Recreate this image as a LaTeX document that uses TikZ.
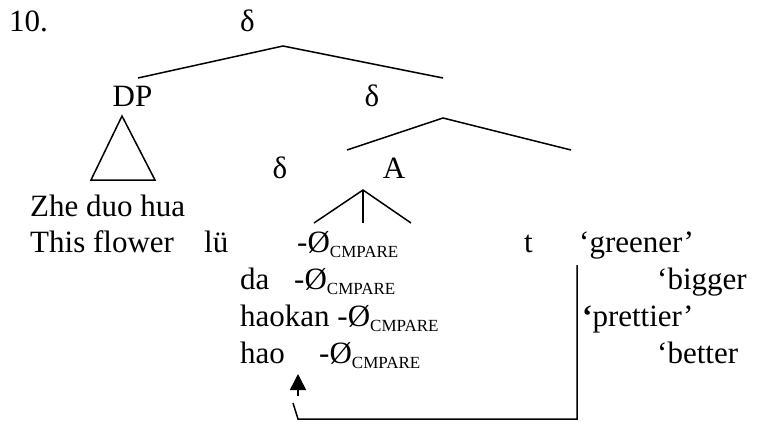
\documentclass[tikz,border=0pt]{standalone}
\usepackage{fontspec}
\setmainfont{Liberation Serif}
\usetikzlibrary{arrows.meta}
\newcommand{\zsub}[1]{\raisebox{-5pt}{\fontsize{17}{20}\selectfont #1}}
\begin{document}
\begin{tikzpicture}[x=1pt,y=-1pt,
  txt/.style={inner sep=0pt,anchor=base west,font=\fontsize{31}{37}\selectfont},
  lab/.style={inner sep=0pt,anchor=base,font=\fontsize{31}{37}\selectfont},
  branch/.style={line width=1.5pt,line join=miter},
  move/.style={line width=1.5pt}]
\useasboundingbox (0,0) rectangle (775,422);
% labels
\node[txt] (num) at (9,32) {10.};
\node[lab] (root) at (247.5,32) {δ};
\node[lab] (dp) at (132.5,107) {DP};
\node[lab] (d2) at (372,107) {δ};
\node[lab] (d3) at (280,178) {δ};
\node[lab] (a) at (394,178) {A};
% tree coordinates
\coordinate (rtop) at (283,46);
\coordinate (rl) at (138,78);
\coordinate (rr) at (443,78);
\coordinate (mtop) at (443,118);
\coordinate (ml) at (347,150);
\coordinate (mr) at (571,150);
\coordinate (ttop) at (122,116);
\coordinate (tl) at (91,180);
\coordinate (tr) at (155,180);
\coordinate (atop) at (363,190);
\coordinate (al) at (314,223);
\coordinate (am) at (363,223);
\coordinate (ar) at (411,223);
\draw[branch] (rl) -- (rtop) -- (rr);
\draw[branch] (ml) -- (mtop) -- (mr);
\draw[branch] (ttop) -- (tl) -- (tr) -- cycle;
\draw[branch] (al) -- (atop) -- (ar);
\draw[branch] (atop) -- (am);
% text rows
\node[txt] (zhe) at (30,216) {Zhe duo hua};
\node[txt] (this) at (30,252) {This flower};
\node[txt] (lu) at (204,252) {lü};
\node[txt] (c1) at (297,252) {-Ø\zsub{CMPARE}};
\node[txt] (t) at (524,252) {t};
\node[txt] (g1) at (579,252) {‘greener’};
\node[txt] (da) at (240,289) {da};
\node[txt] (c2) at (294,289) {-Ø\zsub{CMPARE}};
\node[txt] (g2) at (657,289) {‘bigger};
\node[txt] (hk) at (240,326) {haokan -Ø\zsub{CMPARE}};
\node[txt] (g3) at (582,326) {\textbf{‘}prettier’};
\node[txt] (hao) at (240,363) {hao};
\node[txt] (c4) at (319,363) {-Ø\zsub{CMPARE}};
\node[txt] (g4) at (657,363) {‘better};
% movement arrow
\coordinate (ptop) at (577,265);
\coordinate (pbr) at (577,419);
\coordinate (pbl) at (298,419);
\coordinate (hook) at (293,403);
\coordinate (sbot) at (298,396);
\coordinate (tip) at (298,374);
\draw[move] (ptop) -- (pbr) -- (pbl) -- (hook);
\draw[move,-{Triangle[width=16pt,length=16pt]}] (sbot) -- (tip);
\end{tikzpicture}
\end{document}
